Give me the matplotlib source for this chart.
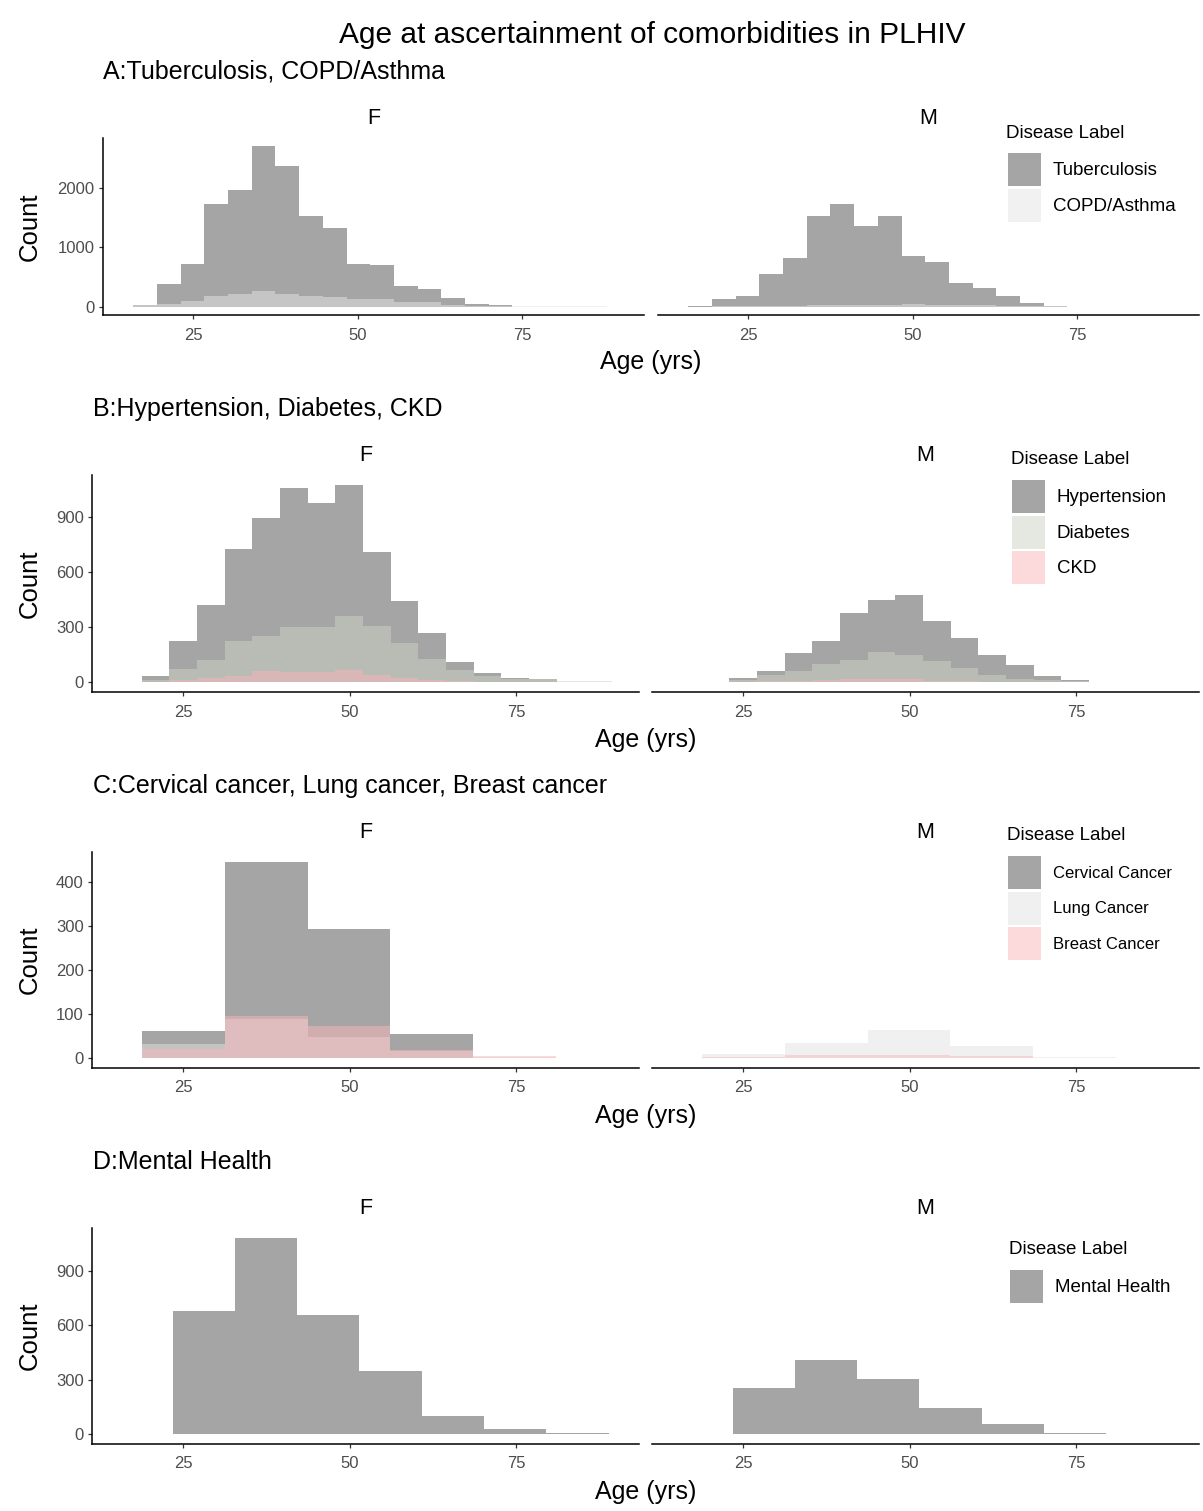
import numpy as np
import matplotlib.pyplot as plt
from matplotlib.patches import Patch

plt.rcParams['font.family'] = ['Liberation Sans', 'DejaVu Sans']

# ---- data (counts per age bin) ----
# A: Tuberculosis, COPD/Asthma  (20 bins)
a_bin_start, a_bin_width, a_nbins = 15.9, 3.6, 20
a_f_tb = [25, 389, 727, 1730, 1972, 2704, 2377, 1527, 1335, 727,
          699, 344, 299, 146, 51, 28, 3, 2, 1, 1]
a_f_copd = [25, 56, 96, 186, 214, 270, 220, 191, 175, 135,
            135, 79, 85, 28, 15, 10, 10, 8, 8, 8]
a_m_tb = [10, 135, 180, 546, 828, 1521, 1735, 1363, 1521, 851,
          755, 400, 315, 180, 62, 23, 3, 2, 1, 1]
a_m_copd = [5, 8, 10, 15, 20, 25, 30, 35, 40, 45,
            40, 35, 30, 20, 12, 8, 5, 4, 3, 3]

# B: Hypertension, Diabetes, CKD  (17 bins)
b_bin_start, b_bin_width, b_nbins = 18.75, 4.16, 17
b_f_htn = [35, 222, 420, 727, 894, 1057, 979, 1076, 711, 445, 266, 112, 49, 24, 15, 2, 1]
b_f_dm = [11, 70, 119, 224, 251, 302, 302, 361, 304, 211, 125, 66, 31, 18, 15, 5, 5]
b_f_ckd = [0, 10, 22, 31, 62, 53, 55, 66, 40, 22, 11, 4, 2, 1, 0, 0, 0]
b_m_htn = [1, 24, 62, 161, 225, 376, 447, 476, 332, 240, 148, 92, 33, 13, 2, 3, 3]
b_m_dm = [3, 13, 40, 59, 99, 119, 165, 150, 114, 77, 38, 18, 11, 5, 2, 2, 2]
b_m_ckd = [0, 2, 5, 8, 12, 15, 18, 15, 8, 4, 2, 1, 0, 0, 0, 0, 0]

# C: Cervical, Lung, Breast cancer  (5 bins)
c_bin_start, c_bin_width, c_nbins = 18.8, 12.45, 5
c_f_cerv = [62, 446, 293, 55, 0]
c_f_lung = [33, 89, 48, 17, 3]
c_f_breast = [20, 96, 73, 19, 5]
c_m_cerv = [0, 0, 0, 0, 0]
c_m_lung = [10, 35, 63, 28, 3]
c_m_breast = [3, 8, 8, 5, 0]

# D: Mental health  (7 bins)
d_bin_start, d_bin_width, d_nbins = 23.4, 9.36, 7
d_f_mh = [677, 1082, 659, 350, 99, 28, 4]
d_m_mh = [254, 409, 306, 147, 55, 7, 2]

W, H = 1203, 1511
GREY = '#4D4D4D'


def px_axes(fig, left, top, right, bottom):
    return fig.add_axes([left / W, 1 - bottom / H, (right - left) / W, (bottom - top) / H])


def main():
    fig = plt.figure(figsize=(W / 100, H / 100), dpi=100)

    rows = [
        dict(title="A:Tuberculosis, COPD/Asthma", tx=103, ty=72,
             edges=a_bin_start + a_bin_width * np.arange(a_nbins + 1),
             labels=["Tuberculosis", "COPD/Asthma"],
             colors=['#4D4D4D', '#E5E5E5'],
             F=[a_f_tb, a_f_copd], M=[a_m_tb, a_m_copd],
             yticks=[0, 1000, 2000], top=138, bottom=315,
             fx=(103, 644), mx=(658, 1199), strip_y=118, age_y=362,
             leg=(1006, 133, 1008, 153), legsize=13.5),
        dict(title="B:Hypertension, Diabetes, CKD", tx=93, ty=409,
             edges=b_bin_start + b_bin_width * np.arange(b_nbins + 1),
             labels=["Hypertension", "Diabetes", "CKD"],
             colors=['#4D4D4D', '#CDD1C5', '#FBB5B9'],
             F=[b_f_htn, b_f_dm, b_f_ckd], M=[b_m_htn, b_m_dm, b_m_ckd],
             yticks=[0, 300, 600, 900], top=475, bottom=692,
             fx=(92, 639), mx=(652, 1199), strip_y=455, age_y=740,
             leg=(1011, 460, 1012, 480), legsize=13.5),
        dict(title="C:Cervical cancer, Lung cancer, Breast cancer", tx=93, ty=786,
             edges=c_bin_start + c_bin_width * np.arange(c_nbins + 1),
             labels=["Cervical Cancer", "Lung Cancer", "Breast Cancer"],
             colors=['#4D4D4D', '#E1E3E1', '#FBB5B9'],
             F=[c_f_cerv, c_f_lung, c_f_breast], M=[c_m_cerv, c_m_lung, c_m_breast],
             yticks=[0, 100, 200, 300, 400], top=852, bottom=1068,
             fx=(92, 639), mx=(652, 1199), strip_y=832, age_y=1116,
             leg=(1007, 836, 1008, 856), legsize=12),
        dict(title="D:Mental Health", tx=93, ty=1162,
             edges=d_bin_start + d_bin_width * np.arange(d_nbins + 1),
             labels=["Mental Health"],
             colors=['#4D4D4D'],
             F=[d_f_mh], M=[d_m_mh],
             yticks=[0, 300, 600, 900], top=1228, bottom=1444,
             fx=(92, 639), mx=(652, 1199), strip_y=1208, age_y=1492,
             leg=(1009, 1249, 1010, 1270), legsize=13.5),
    ]

    fig.text(652 / W, 1 - 35 / H, "Age at ascertainment of comorbidities in PLHIV",
             ha='center', va='center', fontsize=21.5)

    for r in rows:
        ymax = max(max(s) for s in r['F'] + r['M'])
        fig.text(r['tx'] / W, 1 - r['ty'] / H, r['title'], ha='left', va='center', fontsize=18)

        for sex, (x0, x1) in (("F", r['fx']), ("M", r['mx'])):
            ax = px_axes(fig, x0, r['top'], x1, r['bottom'])
            for counts, col in zip(r[sex], r['colors']):
                ax.stairs(counts, r['edges'], fill=True, color=col, alpha=0.5, linewidth=0)
            ax.set_xlim(11.3, 93.5)
            ax.set_ylim(-0.05 * ymax, 1.05 * ymax)
            ax.set_xticks([25, 50, 75])
            ax.set_yticks(r['yticks'])
            for s in ('top', 'right'):
                ax.spines[s].set_visible(False)
            for s in ('left', 'bottom'):
                ax.spines[s].set_linewidth(1.1)
            ax.tick_params(direction='out', length=3, width=0.9, color='#333333',
                           labelcolor=GREY, labelsize=12, pad=3)
            ax.tick_params(axis='x', pad=6)
            if sex == "M":
                ax.spines['left'].set_visible(False)
                ax.tick_params(axis='y', left=False, labelleft=False)
            else:
                fig.text(30 / W, 1 - (r['top'] + r['bottom']) / 2 / H, "Count",
                         rotation=90, ha='center', va='center', fontsize=18.5)
            fig.text((x0 + x1) / 2 / W, 1 - r['strip_y'] / H, sex,
                     ha='center', va='center', fontsize=15.5)

        fig.text((r['fx'][0] + r['mx'][1]) / 2 / W, 1 - r['age_y'] / H, "Age (yrs)",
                 ha='center', va='center', fontsize=18)

        # legend
        lx, ly, kx, ky = r['leg']
        fig.text(lx / W, 1 - ly / H, "Disease Label", ha='left', va='center', fontsize=13.5)
        fs = r['legsize']
        fs_px = fs * 100 / 72
        hh = (33 / fs_px - 0.245) / 0.65
        handles = [Patch(facecolor=c, alpha=0.5, linewidth=0) for c in r['colors']]
        fig.legend(handles, r['labels'], loc='upper left',
                   bbox_to_anchor=(kx / W, 1 - ky / H), frameon=False,
                   borderpad=0, borderaxespad=0, fontsize=fs,
                   handlelength=33 / fs_px, handleheight=hh,
                   labelspacing=2.5 / fs_px, handletextpad=12 / fs_px)

    fig.savefig("out.png", dpi=100)


if __name__ == "__main__":
    main()
